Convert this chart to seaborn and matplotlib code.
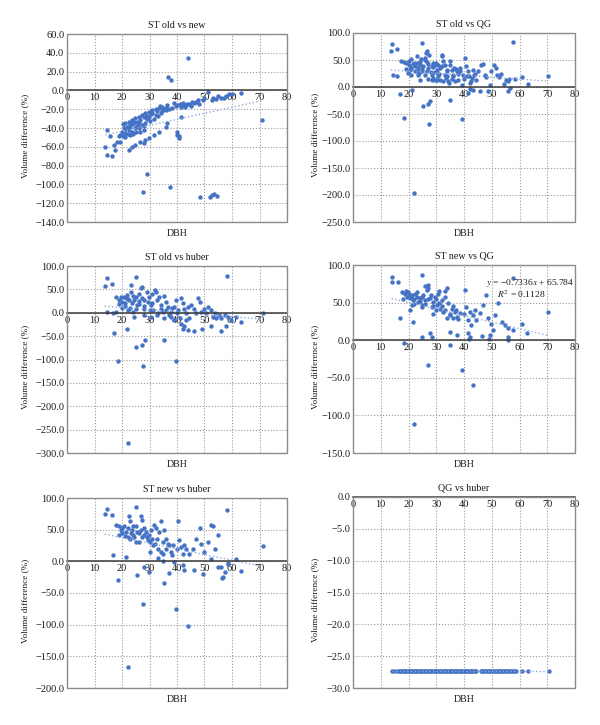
import matplotlib
matplotlib.use("Agg")
import matplotlib.pyplot as plt
import seaborn as sns
from matplotlib.ticker import FuncFormatter, MultipleLocator
from matplotlib.patches import Rectangle

# ---------------- data ----------------
titles = ["ST old vs new", "ST old vs QG", "ST old vs huber",
          "ST new vs QG", "ST new vs huber", "QG vs huber"]
x_label = "DBH"
y_label = "Volume difference (%)"
x_ticks = [0, 10, 20, 30, 40, 50, 60, 70, 80]

# Panel 1: ST old vs new
p1_x = [51.1, 63.3, 59.0, 57.2, 56.0, 54.1, 52.9, 49.3, 46.8, 45.6, 43.8, 42.6, 41.3, 40.1,
        38.9, 39.5, 34.6, 35.9, 33.4, 32.2, 35.2, 31.0, 32.8, 29.8, 28.5, 27.3, 26.1, 27.9, 29.1,
        24.9, 23.6, 22.4, 24.3, 25.5, 26.7, 21.2, 21.8, 23.0, 20.6, 22.4, 20.0, 21.2, 23.6, 24.9,
        26.1, 27.3, 28.5, 19.4, 18.8,
        14.5, 13.9, 14.5, 16.3, 17.6, 17.0, 18.2, 19.4, 15.7,
        22.4, 23.6, 24.9, 26.7, 27.9, 28.5, 29.8, 31.6, 33.4, 35.9, 36.5,
        40.1, 40.1, 40.7, 40.7, 41.3, 31.0, 32.2, 29.8, 34.0, 42.0, 43.2, 44.4,
        44.0, 36.7, 37.9, 71.0, 29.0, 27.7, 37.4, 48.4, 52.0, 52.6, 53.5, 54.5, 60.0,
        20.5, 21.5, 22.0, 23.0, 24.0, 25.0, 25.5, 22.8, 20.2, 21.0, 26.5, 28.0, 30.0, 31.5,
        33.0, 34.5, 36.0, 37.0, 38.0, 30.5, 29.0, 33.8, 36.5, 47.5, 50.0, 55.0, 58.0, 53.0,
        45.0, 43.0, 41.0, 46.0, 48.0, 28.0, 26.0, 24.0, 22.0]
p1_y = [-2, -3, -4, -7.8, -8.5, -9, -10, -10, -12, -12.7, -14.8, -16, -17.3, -16,
        -13.8, -17, -17.3, -18.4, -19, -19.8, -19.8, -20.8, -21.9, -22.6, -24.4, -26, -28, -28, -26.9,
        -29.7, -31.4, -33.2, -33.2, -33.9, -31.4, -35, -38.5, -38.5, -40.3, -42, -43.8, -45.6, -43.8, -40.3,
        -40.3, -36.7, -35, -47.3, -49,
        -42, -60, -68.5, -70, -63, -58, -54.4, -54.4, -49,
        -63, -59.7, -58, -55, -56, -52.7, -51, -47.3, -43.8, -38.5, -35,
        -43.8, -47.3, -49, -51, -28, -24.4, -26, -28, -24.4, -13.8, -15.5, -14.8,
        34, 14, 11, -31, -89, -108.5, -103, -113, -113.5, -111, -110, -112, -3.5,
        -36, -41, -46, -47, -46, -44, -38, -36, -48, -50, -44, -42, -33, -30,
        -27, -22, -21, -20, -19, -25, -30, -16.5, -16, -10, -8, -6, -6, -8,
        -17, -18, -14, -13, -14, -38, -35, -36, -39]

# Panel 2: ST old vs QG
p2_x = [17.4, 19.0, 20.2, 21.0, 21.7, 22.3, 20.5, 19.9, 21.0, 22.3, 22.9, 23.5, 24.1, 24.7,
        25.3, 25.9, 26.5, 27.1, 26.2, 26.8, 27.4, 25.9, 22.9, 23.5, 24.1, 28.3, 28.9, 29.5,
        30.1, 28.3, 28.9, 29.5, 30.7, 31.3, 31.9, 31.9, 32.5, 33.1, 33.7, 33.7, 34.3, 34.9,
        35.5, 36.1, 36.3, 37.3, 37.9, 38.5, 39.1, 39.7, 40.3, 40.9, 41.5, 41.9, 42.4, 43.1,
        43.6, 44.3, 45.1, 46.3, 46.9, 47.5, 48.1, 49.3, 49.9, 50.8, 51.5, 52.0, 52.7, 53.5,
        54.4, 55.1, 55.7, 56.3,
        28.3, 31.3, 32.5, 34.7, 35.5, 36.7, 30.1, 27.1,
        20, 21, 22, 23, 24, 25, 26, 27, 28, 29, 30, 31, 32, 33, 34, 35, 36, 37, 38,
        40, 41, 42, 43, 44, 19, 18.5, 24.5, 29.5, 33.5, 38.5, 20.8, 23.8, 26.8, 30.8,
        14.2, 13.6, 16.0, 14.4, 16.0, 16.8, 18.3, 21.9, 21.4, 25.0, 25.3, 27.0, 27.4, 27.9,
        34.9, 39.1, 57.8, 70.4, 62.9, 60.8, 58.4, 56.0, 56.6, 48.7, 45.7, 42.1, 41.5, 43.3]
p2_y = [49, 45, 48, 51, 43, 38.5, 32, 26, 23, 29, 45, 35, 41.5, 29,
        38.5, 23, 29, 35, 63, 66, 60, 54, 57, 23, 13.7, 38.5, 45, 41.6,
        32, 23, 16.8, 13.7, 19.9, 35, 57, 60, 48, 41.6, 32, 19.9, 10.6, 48,
        32, 23, 35, 29, 13.7, 35, 4.3, 23, 54, 38.5, 29, 19.9, 10.6, 32,
        23, 12.4, 29, 41.6, 43, 23, 18, 4.3, 29, 40, 35, 23, 18, 24,
        6, 13.7, 10.6, 15,
        13.7, 13.7, 12, 7.4, 15, 10.6, 12.4, 15,
        40, 35, 44, 30, 47, 33, 50, 42, 28, 37, 44, 25, 38, 22, 30, 40, 20, 33, 25,
        15, 20, 8, 16, 25, 34, 46, 52, 28, 17, 30, 36, 26, 46, 40,
        80, 66, 69.5, 23, 21, -13, -58, -196, -5, 82, -35, -32, -68, -25,
        -24, -59, 83, 21, 6, 18, 14, -8, -2, -8, -8, -4, -11, -5]

# Panel 3: ST old vs huber
p3_x = [14.4, 13.7, 16.2, 25.0, 58.3, 71.3,
        17.7, 18.9, 19.5, 20.1, 20.7, 21.3, 21.7, 22.6, 23.2, 23.2, 23.8, 24.4, 25.0, 25.6,
        26.2, 26.8, 27.1, 27.4, 28.0, 29.3, 29.9, 30.5, 31.1, 32.0, 32.3, 32.9, 33.5, 34.1,
        34.8, 35.4, 36.0, 36.6, 37.2, 37.8, 39.0, 39.6, 40.5, 41.2, 41.5, 42.1, 42.7, 43.3,
        43.9, 44.5, 45.1, 46.3, 46.9, 47.6, 48.2, 48.8, 50.0, 50.6, 51.2, 52.2, 53.0, 53.7,
        54.3, 55.1, 56.1, 57.3, 58.5, 59.8, 61.6, 63.4,
        14.6, 16.8, 17.7, 21.7, 17.1, 25.0, 27.1, 28.3, 35.4, 42.1, 42.7, 43.9, 46.3, 49.0,
        52.4, 56.1, 57.9, 24.4, 28.0, 30.5, 32.9, 35.4, 37.8, 39.0, 41.5, 43.3, 18.4, 27.7,
        39.5, 22.1,
        20, 21, 22, 23, 24, 25, 26, 28, 30, 31, 33, 34, 36, 38, 40, 19, 21, 22, 24, 26, 28, 29, 31]
p3_y = [75, 58, 61, 77, 79, 0,
        34, 27, 33, 24, 34, 31, 38, 27, 59, 45, 20, 27, 34, 16,
        41, 52, 56, 31, 9, 24, 34, 16, 6, 49, 45, 27, 34, 16,
        2, 36, 24, 13, -5, 2, 13, 27, 6, -12, 31, 20, 9, -1,
        13, -12, 16, 9, -1, 31, 24, 2, 9, -1, 13, 6, -9, -1,
        -12, -5, -12, -5, -9, -16, -9, -19,
        1, -1, 2, -34, -44, -73, -68, -59, -59, -34, -28, -37, -39, -34,
        -29, -39, -29, -9, -5, -9, -5, -11, -9, -16, -23, -16, -102.5, -114,
        -102.5, -279,
        10, 15, 5, 10, 2, 8, 18, 15, 5, 20, 0, 8, 5, 10, 0, 18, 20, 30, 35, 25, 28, 45, 40]

# Panel 4: ST new vs QG
p4_x = [14.2, 13.9, 16.3, 24.7, 57.8, 70.4,
        17.5, 18.7, 19.3, 19.9, 20.5, 21.1, 21.7, 22.3, 22.9, 21.1, 20.5, 23.5, 24.1, 24.7,
        25.3, 25.9, 26.5, 27.1, 27.7, 28.3, 28.9, 29.5, 30.1, 30.7, 31.3, 31.9, 32.5, 33.1,
        33.7, 34.3, 34.9, 35.5, 36.1, 36.7, 37.3, 38.5, 40.3, 40.9, 41.5, 42.1, 42.7, 43.3,
        43.9, 44.5, 45.7, 46.9, 48.1, 48.7, 49.9, 51.2, 52.4, 53.6, 54.8, 56.0, 57.8, 60.8, 62.6,
        16.9, 21.7, 27.7, 28.3, 24.7, 34.9, 37.3, 41.5, 42.1, 49.3, 56.0, 18.3, 21.9, 27.1,
        35.1, 39.1, 43.3, 41.7, 48.9, 55.8, 50.5, 46.5,
        20, 21, 22, 23, 24, 25, 26, 27, 28, 29, 30, 31, 32, 33, 34, 35, 36, 37, 38, 40,
        30, 29, 25, 22, 31, 33, 26, 27, 19, 18]
p4_y = [84, 78, 78, 87, 83, 38,
        64, 62, 58, 64, 56, 60, 53, 62, 58, 47, 40, 51, 56, 47,
        60, 53, 67, 73, 56, 44, 51, 58, 47, 62, 42, 53, 38, 58,
        69, 49, 33, 42, 29, 38, 31, 36, 67, 44, 27, 38, 20, 33,
        40, 27, 36, 47, 60, 29, 22, 33, 49, 24, 20, 16, 13, 22, 9,
        29, 24, 9, 4, 4, 11, 7, 9, 4, 7, 4, -3.6, -111, -33,
        -6.7, -39, -60, 1, 1, 0.5, 13, 5,
        62, 58, 55, 64, 52, 58, 48, 55, 60, 46, 55, 50, 45, 40, 30, 35, 45, 40, 28, 35,
        40, 35, 44, 48, 65, 66, 72, 70, 65, 55]

# Panel 5: ST new vs huber
p5_x = [14.4, 13.7, 16.2, 25.0, 58.3, 71.1,
        17.7, 18.9, 19.5, 20.1, 20.7, 21.3, 22.0, 22.6, 22.9, 23.2, 23.8, 24.4, 25.0, 25.6,
        26.2, 26.8, 27.1, 27.4, 28.0, 28.7, 29.3, 29.9, 30.5, 31.1, 31.7, 32.3, 32.9, 33.5,
        34.1, 34.8, 35.4, 36.0, 36.6, 37.8, 38.4, 40.2, 40.9, 41.5, 42.1, 42.7, 43.3, 44.5,
        45.7, 47.0, 48.2, 48.8, 50.0, 51.2, 52.2, 53.0, 53.7, 54.9, 56.1, 57.3, 58.5, 61.3, 63.2,
        16.8, 21.3, 28.0, 29.9, 37.2, 39.0, 42.1, 42.7, 46.3, 49.4, 52.4, 54.9, 56.7, 18.4,
        25.5, 27.7, 35.2, 39.5, 44.0, 22.1, 56.2, 58.4,
        20, 21, 22, 23, 24, 25, 26, 27, 28, 29, 30, 31, 32, 33, 34, 35, 36, 37, 38, 40,
        24, 19, 30, 33, 35]
p5_y = [83, 74, 73, 85, 81, 24,
        57, 55, 49, 52, 55, 47, 52, 71, 63, 44, 49, 39, 55, 47,
        31, 71, 65, 39, 52, 47, 33, 41, 49, 26, 57, 52, 36, 47,
        63, 31, 49, 20, 28, 15, 26, 63, 33, 23, 12, 26, 20, 12,
        20, 36, 52, 28, 15, 31, 58, 55, 20, 41, -9, -17, -4, 4, -15,
        10, 7, -9, -17, -19, -1, -6, -14, -14, -20, 3, -9, -25, -29,
        -22, -68, -34, -75, -102.6, -167, -26, -3,
        45, 40, 38, 35, 42, 30, 45, 50, 42, 38, 30, 35, 28, 20, 15, 12, 35, 25, 10, 20,
        55, 42, 15, 5, 0]

# Panel 6: QG vs huber (constant difference)
p6_x = [14.2, 14.6, 16.0, 16.5, 17.0, 17.4, 17.9, 18.3, 18.8, 19.2, 19.7, 20.1, 20.5, 21.0,
        21.4, 21.9, 22.3, 22.8, 23.2, 23.7, 24.1, 24.6, 25.0, 25.5, 25.9, 26.4, 26.8, 27.3,
        27.7, 28.2, 28.6, 29.1, 29.5, 30.0, 30.4, 30.9, 31.3, 31.8, 32.2, 32.7, 33.1, 33.6,
        34.0, 34.5, 34.9, 35.4, 35.8, 36.3, 36.7, 37.2, 37.6, 38.1, 38.5, 39.0, 39.4, 39.9,
        40.3, 40.8, 41.2, 41.7, 42.1, 42.6, 43.0, 43.5, 44.0, 44.5, 46.0, 46.5, 47.0, 47.5,
        48.0, 48.5, 49.0, 49.5, 50.0, 50.5, 51.0, 51.5, 52.0, 52.5, 53.0, 53.5, 54.0, 54.5,
        55.0, 55.5, 56.0, 56.5, 57.0, 57.5, 58.0, 58.6, 60.9, 63.0, 70.6]
QG_HUBER_DIFF = -27.4
p6_y = [QG_HUBER_DIFF] * len(p6_x)

y_limits = [(-140, 60), (-250, 100), (-300, 100), (-150, 100), (-200, 100), (-30, 0)]
y_steps = [20, 50, 50, 50, 50, 5]

# ---------------- style ----------------
sns.set_style("white")
plt.rcParams["font.family"] = ["Liberation Serif", "DejaVu Serif"]
plt.rcParams["mathtext.fontset"] = "stix"

BLUE = "#4472C4"
TREND = "#8FAADC"
TXT = "#1a1a1a"
W, H = 600, 725

fig = plt.figure(figsize=(6, 7.25), dpi=100)

# pixel boxes: left, top, right, bottom
boxes = [(67, 34, 287, 222), (353, 33, 575, 222),
         (67, 266, 287, 453), (353, 265, 575, 453),
         (67, 498, 287, 688), (353, 497, 575, 688)]
ylabel_xpx = [25, 315, 25, 315, 25, 315]

xs = [p1_x, p2_x, p3_x, p4_x, p5_x, p6_x]
ys = [p1_y, p2_y, p3_y, p4_y, p5_y, p6_y]


def yfmt(v, _):
    s = f"{v:.1f}"
    if s == "-0.0":
        s = "0.0"
    return s.replace("-", "\u2212")


for i in range(6):
    l, t, r, b = boxes[i]
    ax = fig.add_axes([l / W, 1 - b / H, (r - l) / W, (b - t) / H])
    sns.regplot(x=xs[i], y=ys[i], ax=ax, ci=None, truncate=True,
                scatter_kws=dict(s=10, color=BLUE, linewidths=0, alpha=1, zorder=3),
                line_kws=dict(color=TREND, lw=1.0, ls=":", zorder=4))
    ax.set_xlim(0, 80)
    ax.set_ylim(*y_limits[i])
    ax.set_xticks(x_ticks)
    ax.yaxis.set_major_locator(MultipleLocator(y_steps[i]))
    ax.yaxis.set_major_formatter(FuncFormatter(yfmt))
    ax.xaxis.set_major_formatter(FuncFormatter(lambda v, _: f"{v:.0f}"))
    ax.set_axisbelow(True)
    ax.grid(True, ls=":", color="#9a9a9a", lw=0.8)
    for s in ["top", "right", "left"]:
        ax.spines[s].set_visible(False)
    ax.spines["bottom"].set_position(("data", 0))
    ax.spines["bottom"].set_color("#3a3a3a")
    ax.spines["bottom"].set_linewidth(1.1)
    ax.spines["bottom"].set_zorder(5)
    ax.add_patch(Rectangle((0, 0), 1, 1, transform=ax.transAxes, fill=False,
                           edgecolor="#8c8c8c", lw=1.0, clip_on=False, zorder=6))
    ax.tick_params(axis="both", length=0, labelsize=7.5, colors=TXT)
    ax.tick_params(axis="x", pad=2)
    ax.tick_params(axis="y", pad=2)
    hpx = b - t
    wpx = r - l
    ax.set_xlabel(x_label, fontsize=7.2, color=TXT)
    ax.xaxis.set_label_coords(0.5, -11 / hpx)
    ax.xaxis.label.set_va("center")
    ax.set_ylabel(y_label, fontsize=6.6, color=TXT)
    ax.yaxis.set_label_coords((ylabel_xpx[i] - l) / wpx, 0.46)
    ax.yaxis.label.set_va("center")
    ax.text(0.5, 1 + 9 / hpx, titles[i], transform=ax.transAxes, ha="center",
            va="center", fontsize=7.2, color=TXT)
    if i == 3:
        ax.text(47.8, 76, "$y$ = \u22120.7336$x$ + 65.784", fontsize=6.8,
                va="center", ha="left", color=TXT, zorder=7)
        ax.text(51.8, 61, "$R^2$ = 0.1128", fontsize=6.8,
                va="center", ha="left", color=TXT, zorder=7)

fig.savefig("out.png", dpi=100)
